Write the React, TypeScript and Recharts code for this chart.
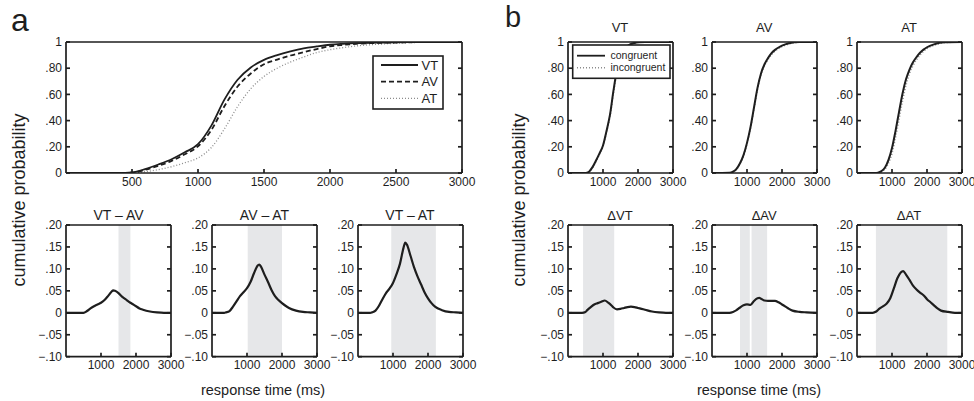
import React from 'react';
import { LineChart, Line, XAxis, YAxis, ReferenceArea } from 'recharts';

const FONT = '"Liberation Sans", Arial, Helvetica, sans-serif';
const INK = '#1e1e1e';
const GREY = '#8c8c8c';
const SHADE = '#e6e7e9';

// ---------- panel a, top: CDFs ----------
const timeCdfA = [0, 400, 500, 600, 700, 800, 900, 1000, 1100, 1200, 1300, 1400, 1500, 1600, 1700, 1800, 1900, 2000, 2100, 2200, 2400, 2600, 2800, 3000];
const cdfVT = [0, 0, 0.005, 0.03, 0.065, 0.105, 0.158, 0.22, 0.36, 0.56, 0.712, 0.806, 0.864, 0.9, 0.928, 0.951, 0.966, 0.979, 0.986, 0.991, 0.996, 0.999, 1, 1];
const cdfAV = [0, 0, 0.003, 0.025, 0.055, 0.092, 0.143, 0.204, 0.326, 0.51, 0.66, 0.76, 0.83, 0.866, 0.897, 0.922, 0.946, 0.967, 0.978, 0.986, 0.994, 0.998, 1, 1];
const cdfAT = [0, 0, 0, 0.01, 0.026, 0.048, 0.078, 0.115, 0.193, 0.336, 0.507, 0.644, 0.737, 0.8, 0.847, 0.885, 0.92, 0.941, 0.957, 0.97, 0.985, 0.995, 0.999, 1];

// ---------- panel a, bottom: differences ----------
const timeVTAV = [0, 500, 600, 700, 800, 900, 1000, 1100, 1200, 1300, 1350, 1400, 1500, 1600, 1700, 1800, 1900, 2000, 2100, 2200, 2400, 2600, 2800, 3000];
const diffVTAV = [0, 0, 0.004, 0.01, 0.015, 0.019, 0.023, 0.029, 0.038, 0.048, 0.051, 0.05, 0.045, 0.037, 0.031, 0.025, 0.02, 0.015, 0.01, 0.007, 0.003, 0.001, 0, 0];
const timeAVAT = [0, 350, 400, 500, 600, 700, 800, 900, 1000, 1100, 1200, 1300, 1350, 1400, 1500, 1600, 1700, 1800, 1900, 2000, 2100, 2200, 2400, 2600, 2800, 3000];
const diffAVAT = [0, 0, 0.001, 0.004, 0.014, 0.026, 0.038, 0.047, 0.056, 0.07, 0.09, 0.107, 0.11, 0.105, 0.087, 0.07, 0.052, 0.038, 0.029, 0.022, 0.016, 0.011, 0.005, 0.002, 0.001, 0];
const timeVTAT = [0, 350, 400, 500, 600, 700, 800, 900, 1000, 1100, 1200, 1300, 1350, 1400, 1500, 1600, 1700, 1800, 1900, 2000, 2100, 2200, 2400, 2600, 2800, 3000];
const diffVTAT = [0, 0, 0.001, 0.005, 0.016, 0.031, 0.045, 0.055, 0.068, 0.088, 0.112, 0.148, 0.16, 0.155, 0.13, 0.104, 0.083, 0.065, 0.047, 0.033, 0.022, 0.014, 0.006, 0.002, 0.001, 0];
const shadeVTAV = [[1500, 1840]];
const shadeAVAT = [[1020, 2000]];
const shadeVTAT = [[950, 2225]];

// ---------- panel b, top: congruent vs incongruent CDFs ----------
const timeCdfB = [0, 500, 600, 700, 800, 900, 1000, 1100, 1200, 1300, 1400, 1500, 1600, 1700, 1800, 1900, 2000, 2200, 2500, 3000];
const vtCongruent = [0, 0, 0.01, 0.045, 0.095, 0.15, 0.21, 0.32, 0.445, 0.63, 0.79, 0.88, 0.935, 0.97, 0.985, 0.993, 0.998, 1, 1, 1];
const vtIncongruent = [0, 0, 0.008, 0.04, 0.088, 0.143, 0.203, 0.31, 0.435, 0.615, 0.775, 0.87, 0.928, 0.965, 0.982, 0.991, 0.997, 1, 1, 1];
const avCongruent = [0, 0.002, 0.01, 0.032, 0.075, 0.137, 0.23, 0.35, 0.5, 0.65, 0.76, 0.83, 0.877, 0.915, 0.94, 0.958, 0.972, 0.99, 1, 1];
const avIncongruent = [0, 0.001, 0.008, 0.028, 0.07, 0.13, 0.222, 0.34, 0.49, 0.64, 0.75, 0.82, 0.866, 0.903, 0.93, 0.95, 0.965, 0.985, 0.998, 1];
const atCongruent = [0, 0, 0.003, 0.015, 0.042, 0.1, 0.19, 0.32, 0.465, 0.605, 0.715, 0.79, 0.845, 0.885, 0.918, 0.942, 0.96, 0.982, 0.998, 1];
const atIncongruent = [0, 0, 0.001, 0.008, 0.03, 0.075, 0.15, 0.27, 0.41, 0.55, 0.67, 0.76, 0.82, 0.865, 0.9, 0.928, 0.95, 0.975, 0.995, 1];

// ---------- panel b, bottom: congruency differences ----------
const timeDVT = [0, 400, 500, 550, 650, 750, 850, 950, 1050, 1150, 1250, 1300, 1400, 1500, 1600, 1700, 1800, 1900, 2000, 2100, 2200, 2400, 2600, 2800, 3000];
const diffDVT = [0, 0, 0.002, 0.006, 0.013, 0.019, 0.022, 0.025, 0.028, 0.023, 0.016, 0.012, 0.008, 0.009, 0.011, 0.013, 0.014, 0.013, 0.011, 0.009, 0.007, 0.003, 0.001, 0, 0];
const timeDAV = [0, 500, 600, 700, 800, 900, 1000, 1100, 1200, 1300, 1350, 1400, 1500, 1600, 1700, 1800, 1900, 2000, 2100, 2200, 2300, 2500, 2700, 3000];
const diffDAV = [0, 0, 0.002, 0.006, 0.012, 0.017, 0.019, 0.018, 0.027, 0.033, 0.034, 0.032, 0.028, 0.027, 0.027, 0.027, 0.024, 0.019, 0.014, 0.009, 0.005, 0.002, 0.001, 0];
const timeDAT = [0, 450, 550, 650, 750, 850, 950, 1050, 1150, 1250, 1320, 1400, 1500, 1600, 1700, 1800, 1900, 2000, 2100, 2200, 2300, 2400, 2600, 2800, 3000];
const diffDAT = [0, 0, 0.003, 0.01, 0.015, 0.021, 0.033, 0.055, 0.078, 0.092, 0.095, 0.087, 0.075, 0.062, 0.053, 0.046, 0.04, 0.031, 0.024, 0.017, 0.01, 0.005, 0.002, 0, 0];
const shadeDVT = [[430, 1320]];
const shadeDAV = [[800, 1080], [1130, 1575]];
const shadeDAT = [[540, 2580]];

// ---------- ticks ----------
const xTicksWide = [500, 1000, 1500, 2000, 2500, 3000];
const xLabelsWide = ['500', '1000', '1500', '2000', '2500', '3000'];
const xTicksNarrow = [1000, 2000, 3000];
const xLabelsNarrow = ['1000', '2000', '3000'];
const yTicksCdf = [0, 0.2, 0.4, 0.6, 0.8, 1];
const yLabelsCdf = ['0', '.20', '.40', '.60', '.80', '1'];
const yTicksDiff = [-0.1, -0.05, 0, 0.05, 0.1, 0.15, 0.2];
const yLabelsDiff = ['\u2212.10', '\u2212.05', '0', '.05', '.10', '.15', '.20'];

// titles / legend entries
const titlesA = ['VT \u2013 AV', 'AV \u2013 AT', 'VT \u2013 AT'];
const titlesBTop = ['VT', 'AV', 'AT'];
const titlesBBottom = ['\u0394VT', '\u0394AV', '\u0394AT'];
const legendA = ['VT', 'AV', 'AT'];
const legendB = ['congruent', 'incongruent'];

type Series = { key: string; values: number[]; stroke: string; width: number; dash?: string };

const LW = 45;
const RW = 22;
const MT = 10;
const BH = 26;

const pick = (ticks: number[], labels: string[]) => (v: number) => {
  const i = ticks.findIndex((t) => Math.abs(t - v) < 1e-9);
  return i >= 0 ? labels[i] : '';
};
const blank = () => '';

function Panel(props: {
  x: number; y: number; w: number; h: number;
  time: number[]; series: Series[];
  xTicks: number[]; xLabels: string[];
  yTicks: number[]; yLabels: string[]; yDomain: [number, number];
  shades?: number[][];
}) {
  const { x, y, w, h, time, series, xTicks, xLabels, yTicks, yLabels, yDomain, shades = [] } = props;
  const W = w + LW + RW + 1;
  const H = h + MT + 1 + BH;
  const data = time.map((t, i) => {
    const row: Record<string, number> = { t };
    series.forEach((s) => { row[s.key] = s.values[i]; });
    return row;
  });
  const tickStyle = { fontSize: 12, fill: INK, fontFamily: FONT, strokeWidth: 0 };
  const common: any = { stroke: INK, strokeWidth: 1.7, tick: tickStyle, interval: 0, tickSize: -4, type: 'number', allowDataOverflow: true };
  return (
    <div style={{ position: 'absolute', left: x - LW, top: y - MT - 1 }}>
      <LineChart width={W} height={H} data={data} margin={{ top: MT, right: RW, bottom: 0, left: 0 }}>
        {shades.map(([a, b], i) => (
          <ReferenceArea key={'s' + i} xAxisId="b" yAxisId="l" x1={a} x2={b} fill={SHADE} fillOpacity={1} stroke="none" />
        ))}
        {series.map((s) => (
          <Line key={s.key} xAxisId="b" yAxisId="l" dataKey={s.key} type="monotone" dot={false} activeDot={false}
            isAnimationActive={false} stroke={s.stroke} strokeWidth={s.width} strokeDasharray={s.dash} />
        ))}
        <XAxis xAxisId="b" dataKey="t" domain={[0, 3000]} ticks={xTicks}
          tickFormatter={pick(xTicks, xLabels)} tickMargin={8} height={BH} {...common} />
        <XAxis xAxisId="t" orientation="top" domain={[0, 3000]} ticks={xTicks}
          tickFormatter={blank} height={1} {...common} />
        <YAxis yAxisId="l" domain={yDomain} ticks={yTicks}
          tickFormatter={pick(yTicks, yLabels)} tickMargin={8} width={LW} {...common} />
        <YAxis yAxisId="r" orientation="right" domain={yDomain} ticks={yTicks}
          tickFormatter={blank} width={1} {...common} />
      </LineChart>
    </div>
  );
}

const TOP_Y = 41.7;
const TOP_H = 131;
const BOT_Y = 225;
const BOT_H = 131.7;
const aBottomX = [66, 212, 357.5];
const bX = [567.5, 711.7, 856.5];
const NW = 105;

export default function App() {
  const diffA = [
    { time: timeVTAV, values: diffVTAV, shades: shadeVTAV },
    { time: timeAVAT, values: diffAVAT, shades: shadeAVAT },
    { time: timeVTAT, values: diffVTAT, shades: shadeVTAT },
  ];
  const cdfB = [
    { c: vtCongruent, i: vtIncongruent },
    { c: avCongruent, i: avIncongruent },
    { c: atCongruent, i: atIncongruent },
  ];
  const diffB = [
    { time: timeDVT, values: diffDVT, shades: shadeDVT },
    { time: timeDAV, values: diffDAV, shades: shadeDAV },
    { time: timeDAT, values: diffDAT, shades: shadeDAT },
  ];
  return (
    <div style={{ position: 'absolute', left: 0, top: 0, width: 974, height: 401, background: '#fff', overflow: 'hidden', fontFamily: FONT }}>
      <Panel x={66} y={TOP_Y} w={396} h={TOP_H} time={timeCdfA}
        series={[
          { key: 'AT', values: cdfAT, stroke: GREY, width: 1.3, dash: '1 2' },
          { key: 'AV', values: cdfAV, stroke: INK, width: 1.8, dash: '5 3' },
          { key: 'VT', values: cdfVT, stroke: INK, width: 1.8 },
        ]}
        xTicks={xTicksWide} xLabels={xLabelsWide} yTicks={yTicksCdf} yLabels={yLabelsCdf} yDomain={[0, 1]} />
      {diffA.map((d, i) => (
        <Panel key={'ab' + i} x={aBottomX[i]} y={BOT_Y} w={NW} h={BOT_H} time={d.time}
          series={[{ key: 'd', values: d.values, stroke: INK, width: 2.2 }]} shades={d.shades}
          xTicks={xTicksNarrow} xLabels={xLabelsNarrow} yTicks={yTicksDiff} yLabels={yLabelsDiff} yDomain={[-0.1, 0.2]} />
      ))}
      {cdfB.map((d, i) => (
        <Panel key={'bt' + i} x={bX[i]} y={TOP_Y} w={NW} h={TOP_H} time={timeCdfB}
          series={[
            { key: 'inc', values: d.i, stroke: GREY, width: 1.6, dash: '1 2' },
            { key: 'con', values: d.c, stroke: INK, width: 2 },
          ]}
          xTicks={xTicksNarrow} xLabels={xLabelsNarrow} yTicks={yTicksCdf} yLabels={yLabelsCdf} yDomain={[0, 1]} />
      ))}
      {diffB.map((d, i) => (
        <Panel key={'bb' + i} x={bX[i]} y={BOT_Y} w={NW} h={BOT_H} time={d.time}
          series={[{ key: 'd', values: d.values, stroke: INK, width: 2.2 }]} shades={d.shades}
          xTicks={xTicksNarrow} xLabels={xLabelsNarrow} yTicks={yTicksDiff} yLabels={yLabelsDiff} yDomain={[-0.1, 0.2]} />
      ))}
      <svg width={974} height={401} style={{ position: 'absolute', left: 0, top: 0, pointerEvents: 'none' }}
        fontFamily={FONT} fill={INK}>
        <text x={11} y={31} fontSize={32}>a</text>
        <text x={505} y={27} fontSize={29}>b</text>
        {titlesA.map((t, i) => (
          <text key={'ta' + i} x={aBottomX[i] + NW / 2} y={219.5} fontSize={14} textAnchor="middle">{t}</text>
        ))}
        {titlesBTop.map((t, i) => (
          <text key={'tbt' + i} x={bX[i] + NW / 2} y={32} fontSize={13} textAnchor="middle">{t}</text>
        ))}
        {titlesBBottom.map((t, i) => (
          <text key={'tbb' + i} x={bX[i] + NW / 2} y={219.5} fontSize={13} textAnchor="middle">{t}</text>
        ))}
        <text transform="translate(25,200) rotate(-90)" fontSize={18} textAnchor="middle">cumulative probability</text>
        <text transform="translate(525,200) rotate(-90)" fontSize={18} textAnchor="middle">cumulative probability</text>
        <text x={263} y={395} fontSize={14.5} textAnchor="middle">response time (ms)</text>
        <text x={759} y={395} fontSize={14.5} textAnchor="middle">response time (ms)</text>
        {/* legend a */}
        <rect x={373} y={56} width={70} height={53} fill="#fff" stroke={INK} strokeWidth={1.6} />
        {legendA.map((t, i) => {
          const cy = 65 + i * 16.7;
          const st = i === 0 ? { stroke: INK, dash: undefined, w: 1.8 } : i === 1 ? { stroke: INK, dash: '5 3', w: 1.8 } : { stroke: GREY, dash: '1 2', w: 1.3 };
          return (
            <g key={'la' + i}>
              <line x1={381} x2={418} y1={cy} y2={cy} stroke={st.stroke} strokeWidth={st.w} strokeDasharray={st.dash} />
              <text x={421.5} y={cy + 4.6} fontSize={13}>{t}</text>
            </g>
          );
        })}
        {/* legend b */}
        <rect x={572.7} y={45} width={97.3} height={33.3} fill="#fff" stroke={INK} strokeWidth={1.6} />
        {legendB.map((t, i) => {
          const cy = 55.7 + i * 12;
          return (
            <g key={'lb' + i}>
              <line x1={577} x2={605} y1={cy} y2={cy} stroke={i === 0 ? INK : GREY} strokeWidth={i === 0 ? 1.8 : 1.4}
                strokeDasharray={i === 0 ? undefined : '1 2'} />
              <text x={610.5} y={cy + 3.7} fontSize={10.5}>{t}</text>
            </g>
          );
        })}
      </svg>
    </div>
  );
}
